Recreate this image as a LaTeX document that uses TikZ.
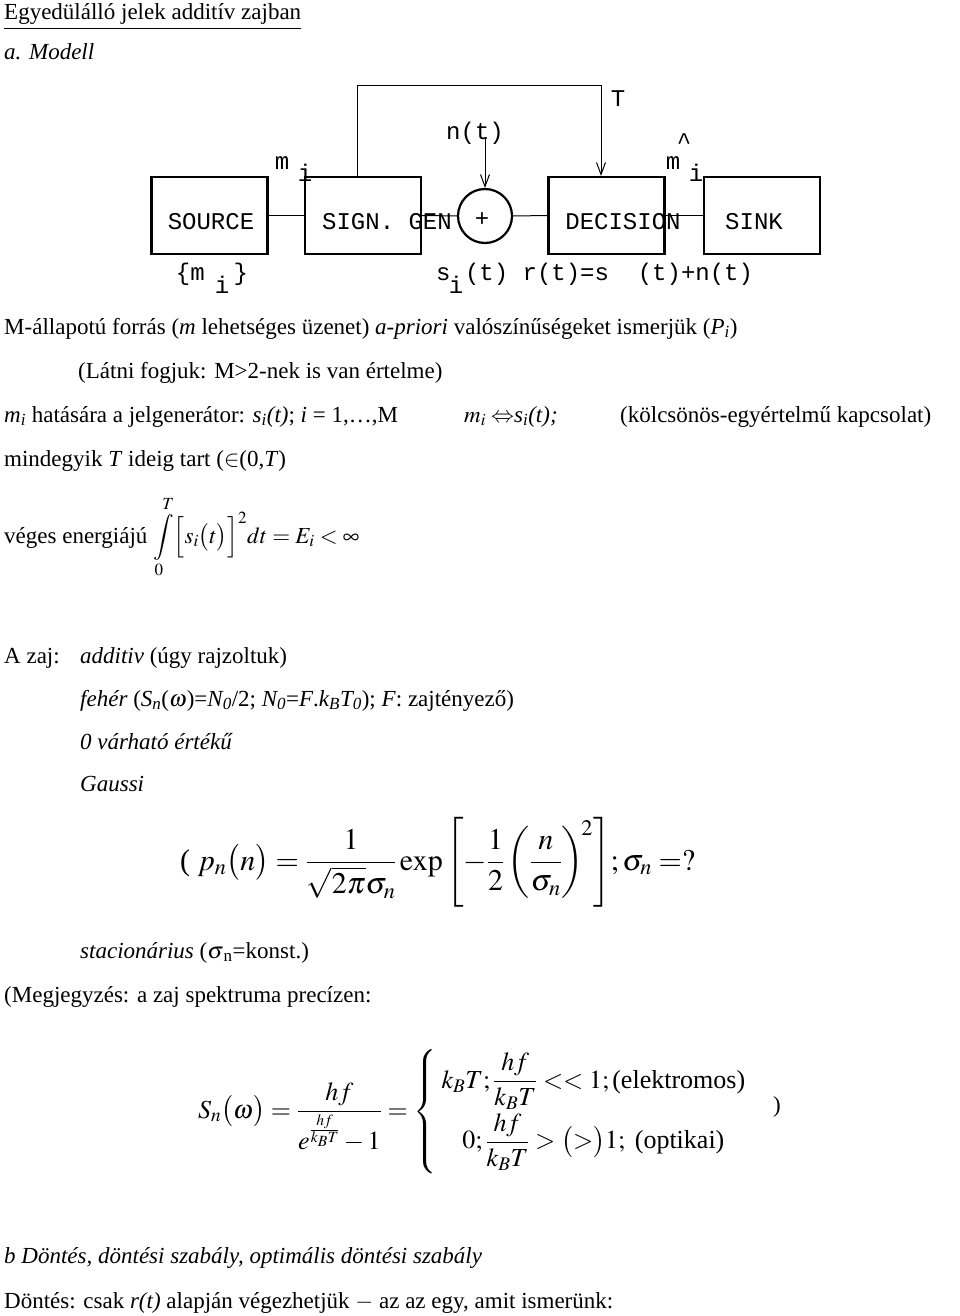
\documentclass[tikz,border=0pt]{standalone}
\usepackage{amsmath}
\usepackage{mathptmx}
\usepackage{fontspec}
\setmainfont{Liberation Serif}
\newfontfamily\cour{Liberation Mono}
\usetikzlibrary{arrows.meta,shapes.geometric}
\begin{document}
\begin{tikzpicture}[x=1pt,y=-1pt,
  txt/.style={anchor=base west,inner sep=0pt,font=\fontsize{23}{27}\selectfont},
  mono/.style={anchor=base,inner sep=0pt,font=\cour\fontsize{24}{28}\selectfont},
  blk/.style={draw,line width=2.2pt,minimum width=116pt,minimum height=77pt,inner sep=0pt},
  wire/.style={line width=1pt}]
\useasboundingbox (0,0) rectangle (960,1316);
% diagram
\node[blk] (src) at (209.5,215.5) {};
\node[blk] (gen) at (363,215.5) {};
\node[draw,line width=2.2pt,circle,minimum size=54pt,inner sep=0pt] (sum) at (485,216) {};
\node[blk] (dec) at (606.5,215.5) {};
\node[blk] (snk) at (762,215.5) {};
\draw[wire] (src.east) -- (gen.west);
\draw[wire] (gen.east) -- (sum.west);
\draw[wire] (sum.east) -- (dec.west);
\draw[wire] (dec.east) -- (snk.west);
\coordinate (fb) at (357,86);
\draw[wire,-{Straight Barb[length=12pt,width=9pt]}] (gen.north-|fb) -- (fb) -- (601,86) -- (dec.north-|601,0);
\coordinate (nt) at (485,137);
\draw[wire,-{Straight Barb[length=12pt,width=9pt]}] (nt) -- (sum.north);
\node[mono] (l1) at (211,229) {SOURCE};
\node[mono] (l2) at (387,229) {SIGN. GEN};
\node[mono] (l3) at (482,226) {+};
\node[mono] (l4) at (623,229) {DECISION};
\node[mono] (l5) at (754,229) {SINK};
\node[mono] (lT) at (618,107) {T};
\node[mono] (ln) at (475,140) {n(t)};
\node[mono] (lh) at (684,150) {\^{}};
\node[mono] (lm1) at (282,170) {m};
\node[mono] (li1) at (305,182) {i};
\node[mono] (lm2) at (673,170) {m};
\node[mono] (li2) at (696,182) {i};
\node[mono] (lsrc) at (212,280) {\{m\ \ \}};
\node[mono] (lsi) at (222,293) {i};
\node[mono,anchor=base west] (lsig) at (436,280) {s\ (t) r(t)=s\ \ (t)+n(t)};
\node[mono] (lsii) at (456,293) {i};
% text
\node[txt] (t1) at (4,20) {\underline{Egyedülálló jelek additív zajban}};
\node[txt] (t2) at (4,60) {\textit{a. Modell}};
\node[txt] (t3) at (4,334) {M-állapotú forrás (\textit{m} lehetséges üzenet) \textit{a-priori} valószínűségeket ismerjük (\textit{P\textsubscript{i}})};
\node[txt] (t4) at (78,378) {(Látni fogjuk: M>2-nek is van értelme)};
\node[txt] (t5) at (4,422) {\textit{m\textsubscript{i}} hatására a jelgenerátor: \textit{s\textsubscript{i}(t)}; \textit{i} = 1,\ldots,M};
\node[txt] (t5b) at (464,422) {$m_i\Leftrightarrow$\textit{s\textsubscript{i}(t);}};
\node[txt] (t5c) at (620,422) {(kölcsönös-egyértelmű kapcsolat)};
\node[txt] (t6) at (4,466) {mindegyik \textit{T} ideig tart ($\in$(0,\textit{T})};
\node[txt] (t7) at (4,543) {véges energiájú $\displaystyle\int\limits_0^T \Bigl[s_i\bigl(t\bigr)\Bigr]^2 dt = E_i < \infty$};
\node[txt] (t8) at (4,663) {A zaj:};
\node[txt] (t8b) at (80,663) {\textit{additiv} (úgy rajzoltuk)};
\node[txt] (t9) at (80,706) {\textit{fehér} (\textit{S\textsubscript{n}}($\omega$)=\textit{N\textsubscript{0}}/2; \textit{N\textsubscript{0}}=\textit{F}.\textit{k\textsubscript{B}T\textsubscript{0}}); \textit{F}: zajtényező)};
\node[txt] (t10) at (80,749) {\textit{0 várható értékű}};
\node[txt] (t11) at (80,791) {\textit{Gaussi}};
\node[txt,font=\fontsize{30}{34}\selectfont] (t12) at (180,870) {( $p_n\bigl(n\bigr)=\dfrac{1}{\sqrt{2\pi}\sigma_n}\exp\left[-\dfrac12\left(\dfrac{n}{\sigma_n}\right)^{\!2}\right]\!;\sigma_n=?$};
\node[txt] (t13) at (80,958) {\textit{stacionárius} ($\sigma$\textsubscript{n}=konst.)};
\node[txt] (t14) at (4,1002) {(Megjegyzés: a zaj spektruma precízen:};
\node[txt,font=\fontsize{26}{30}\selectfont] (t15) at (198,1118) {$S_n\bigl(\omega\bigr)=\dfrac{hf}{e^{\frac{hf}{k_BT}}-1}=\left\{\begin{array}{c} k_BT;\dfrac{hf}{k_BT}<<1;\text{(elektromos)}\\[16pt] 0;\dfrac{hf}{k_BT}>\bigl(>\bigr)1;\ \text{(optikai)}\end{array}\right.$};
\node[txt] (t15b) at (773,1112) {)};
\node[txt] (t16) at (4,1263) {\textit{b Döntés, döntési szabály, optimális döntési szabály}};
\node[txt] (t17) at (4,1308) {Döntés: csak \textit{r(t)} alapján végezhetjük $-$ az az egy, amit ismerünk:};
\end{tikzpicture}
\end{document}
